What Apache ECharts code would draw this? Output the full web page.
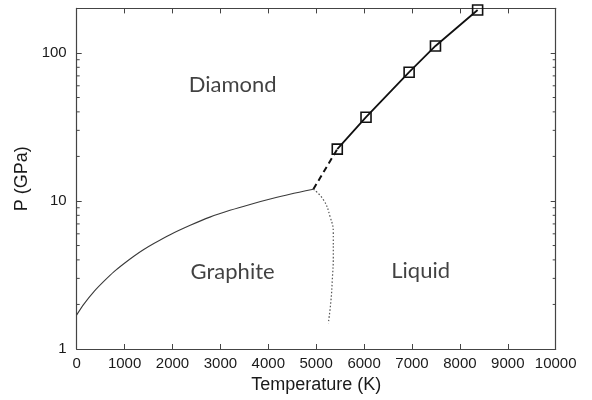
<!DOCTYPE html>
<html><head><meta charset="utf-8">
<script src="https://cdn.jsdelivr.net/npm/echarts@6/dist/echarts.min.js"></script>
<style>html,body{margin:0;padding:0;background:#fff}#c{width:592px;height:400px}</style>
</head><body><div id="c"></div>
<script>
// Tick labels
const xTickValues = [0, 1000, 2000, 3000, 4000, 5000, 6000, 7000, 8000, 9000, 10000];
const yTickValues = [1, 10, 100];
const yMinorTickValues = [2, 3, 4, 5, 6, 7, 8, 9, 20, 30, 40, 50, 60, 70, 80, 90];

// Graphite–diamond boundary (thin solid)
const gdT = [0, 150, 360, 570, 780, 990, 1200, 1400, 1610, 1950, 2370, 2780, 3200, 3620, 4040, 4450, 4940];
const gdP = [1.70, 2.01, 2.44, 2.87, 3.33, 3.78, 4.25, 4.70, 5.16, 5.92, 6.85, 7.78, 8.65, 9.48, 10.3, 11.1, 12.0];

// Extrapolated diamond melting (dashed)
const dashT = [4940, 5440];
const dashP = [12.0, 22.4];

// Diamond melting line with squares
const sqT = [5440, 6040, 6940, 7490, 8370];
const sqP = [22.4, 36.8, 74.1, 111.5, 195];

// Graphite melting (dotted)
const dotT = [4940, 5150, 5290, 5357, 5357, 5336, 5309, 5253];
const dotP = [12.0, 10.2, 7.83, 6.05, 4.20, 2.93, 2.14, 1.49];

// Phase region labels
const regionNames = ['Diamond', 'Graphite', 'Liquid'];
const regionT = [3255, 3255, 7180];
const regionP = [60.8, 3.33, 3.37];

const zip = (a, b) => a.map((v, i) => [v, b[i]]);
const FRAME = '#444';
const TXT = '#1a1a1a';

const chart = echarts.init(document.getElementById('c'), null, {renderer: 'canvas'});
const xMin = xTickValues[0], xMax = xTickValues[xTickValues.length - 1];

chart.setOption({
  animation: false,
  backgroundColor: '#fff',
  grid: {left: 76.7, right: 36.3, top: 8.4, bottom: 51, show: false},
  xAxis: [{
    type: 'value', min: xMin, max: xMax, interval: 1000,
    name: 'Temperature (K)', nameLocation: 'middle', nameGap: 26,
    nameTextStyle: {fontFamily: 'Liberation Sans', fontSize: 18, color: TXT},
    axisLine: {show: true, onZero: false, lineStyle: {color: FRAME, width: 1.2}},
    axisTick: {show: true, inside: true, length: 5, lineStyle: {color: FRAME}},
    axisLabel: {fontFamily: 'Liberation Sans', fontSize: 15, color: TXT, margin: 7,
      formatter: v => String(v)},
    splitLine: {show: false}
  }, {
    type: 'value', position: 'top', min: xMin, max: xMax, interval: 1000,
    axisLine: {show: true, onZero: false, lineStyle: {color: FRAME, width: 1.2}},
    axisTick: {show: true, inside: true, length: 5, lineStyle: {color: FRAME}},
    axisLabel: {show: false}, splitLine: {show: false}
  }],
  yAxis: [{
    type: 'log', logBase: 10, min: 1, max: 200,
    name: 'P (GPa)', nameLocation: 'middle', nameGap: 44,
    nameTextStyle: {fontFamily: 'Liberation Sans', fontSize: 18, color: TXT},
    axisLine: {show: true, onZero: false, lineStyle: {color: FRAME, width: 1.2}},
    axisTick: {show: true, inside: true, length: 5, lineStyle: {color: FRAME}},
    axisLabel: {fontFamily: 'Liberation Sans', fontSize: 15, color: TXT, margin: 10,
      formatter: v => { const r = Math.round(v); return yTickValues.includes(r) && Math.abs(v - r) < 1e-6 ? String(r) : ''; }},
    splitLine: {show: false}
  }, {
    type: 'log', logBase: 10, min: 1, max: 200, position: 'right',
    axisLine: {show: true, onZero: false, lineStyle: {color: FRAME, width: 1.2}},
    axisTick: {show: true, inside: true, length: 5, lineStyle: {color: FRAME}},
    axisLabel: {show: false}, splitLine: {show: false}
  }],
  series: [
    {
      type: 'line', data: zip(gdT, gdP), smooth: 0.3, showSymbol: false, symbol: 'none',
      lineStyle: {color: '#3a3a3a', width: 1.1}, z: 3
    },
    {
      type: 'line', data: zip(dashT, dashP), showSymbol: false, symbol: 'none',
      lineStyle: {color: '#111', width: 2, type: [6, 4]}, z: 3
    },
    {
      type: 'line', data: zip(sqT, sqP), symbol: 'rect', symbolSize: 10, showSymbol: true,
      lineStyle: {color: '#111', width: 1.8},
      itemStyle: {color: 'rgba(0,0,0,0)', borderColor: '#111', borderWidth: 1.6}, z: 4
    },
    {
      type: 'line', data: zip(dotT, dotP), smooth: 0.5, showSymbol: false, symbol: 'none',
      lineStyle: {color: '#555', width: 1.2, type: [1.5, 2]}, z: 3
    },
    {
      type: 'scatter', data: regionT.map((t, i) => [t, regionP[i], regionNames[i]]),
      symbolSize: 1, itemStyle: {color: 'rgba(0,0,0,0)'},
      label: {show: true, position: 'inside', formatter: p => p.value[2],
        fontFamily: 'Lato', fontSize: 22, color: '#111', textBorderWidth: 0}, z: 5
    },
    {
      type: 'custom', clip: false, silent: true,
      data: yMinorTickValues.map(v => [xMin, v]),
      renderItem: (params, api) => {
        const v = api.value(1);
        const l = api.coord([xMin, v]);
        const r = api.coord([xMax, v]);
        const st = {stroke: FRAME, lineWidth: 1};
        return {type: 'group', children: [
          {type: 'line', shape: {x1: l[0], y1: l[1], x2: l[0] + 3, y2: l[1]}, style: st},
          {type: 'line', shape: {x1: r[0] - 3, y1: r[1], x2: r[0], y2: r[1]}, style: st}
        ]};
      }, z: 2
    }
  ]
});
</script></body></html>
